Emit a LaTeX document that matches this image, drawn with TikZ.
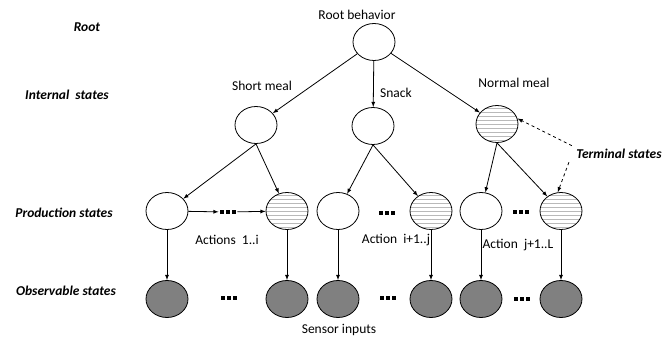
\documentclass[tikz,border=0pt]{standalone}
\usepackage{fontspec}
\setmainfont{Carlito}
\usetikzlibrary{shapes.geometric}

\newcommand{\lblfont}{\fontsize{13.5}{15}\selectfont}
\newcommand{\dotrow}{\rule{3.5pt}{3.5pt}\hspace{2.5pt}\rule{3.5pt}{3.5pt}\hspace{2.5pt}\rule{3.5pt}{3.5pt}}

\tikzset{
  stwhite/.style={ellipse,draw,line width=0.8pt,minimum width=42pt,minimum height=37pt,inner sep=0pt},
  sthatch/.style={stwhite,path picture={
    \foreach \k in {-16,-12,...,16}
      \draw[gray!55,line width=1pt] ([yshift=\k pt]path picture bounding box.west) -- ([yshift=\k pt]path picture bounding box.east);}},
  stobs/.style={stwhite,fill=gray},
  lbl/.style={font=\lblfont},
  lvl/.style={font=\lblfont\bfseries\itshape},
  dotz/.style={inner sep=1.5pt},
  arr/.style={->,>=latex,line width=0.8pt},
}

\begin{document}
\begin{tikzpicture}[x=1pt,y=-1pt]
\useasboundingbox (0,0) rectangle (665,340);
% level names
\node[lvl] (lroot) at (87,27) {Root};
\node[lvl] (lint) at (67,95) {Internal\ \ states};
\node[lvl] (lprod) at (64,213) {Production states};
\node[lvl] (lobs) at (66,291) {Observable states};
% root and internal states
\node[stwhite] (root) at (374,42) {};
\node[stwhite] (sm) at (256,125) {};
\node[stwhite] (sn) at (373,126) {};
\node[sthatch] (nm) at (497,124) {};
\node[lbl] (rbt) at (357,15) {Root behavior};
\node[lbl] (smt) at (262,86) {Short meal};
\node[lbl] (snt) at (396,93) {Snack};
\node[lbl] (nmt) at (514,83) {Normal meal};
% production states
\node[stwhite] (p1) at (167,211) {};
\node[sthatch] (h1) at (287,211) {};
\node[stwhite] (p2) at (338,211) {};
\node[sthatch] (h2) at (431,211) {};
\node[stwhite] (p3) at (481,211) {};
\node[sthatch] (h3) at (561,211) {};
\node[dotz] (d1) at (228,212) {\dotrow};
\node[dotz] (d2) at (387,213) {\dotrow};
\node[dotz] (d3) at (521,212) {\dotrow};
% observable states
\node[stobs] (o1) at (167,299) {};
\node[stobs] (o2) at (287,299) {};
\node[stobs] (o3) at (338,299) {};
\node[stobs] (o4) at (431,299) {};
\node[stobs] (o5) at (481,299) {};
\node[stobs] (o6) at (561,299) {};
\node[dotz] (e1) at (229,298) {\dotrow};
\node[dotz] (e2) at (388,298) {\dotrow};
\node[dotz] (e3) at (522,299) {\dotrow};
% texts
\node[lbl] (a1) at (227,240) {Actions\ \ 1..i};
\node[lbl] (a2) at (396,240) {Action\ \ i+1..j};
\node[lbl] (a3) at (518,245) {Action\ \ j+1..L};
\node[lbl] (sens) at (339,330) {Sensor inputs};
\node[lvl] (term) at (619,154) {Terminal states};
% edges
\draw[arr] (root) -- (sm);
\draw[arr] (root) -- (sn);
\draw[arr] (root) -- (nm);
\draw[arr] (sm.south) -- (p1);
\draw[arr] (sm.south) -- (h1);
\draw[arr] (sn.south) -- (p2);
\draw[arr] (sn.south) -- (h2);
\draw[arr] (nm.south) -- (p3);
\draw[arr] (nm.south) -- (h3);
\draw[arr] (p1) -- (d1);
\draw[arr] (d1) -- (h1);
\foreach \a/\b in {p1/o1,h1/o2,p2/o3,h2/o4,p3/o5,h3/o6}
  \draw[arr] (\a) -- (\b);
\draw[arr,dashed] ([xshift=-1pt]term.north west) -- (nm.15);
\draw[arr,dashed] ([xshift=-4pt]term.south west) -- (h3.100);
\end{tikzpicture}
\end{document}
